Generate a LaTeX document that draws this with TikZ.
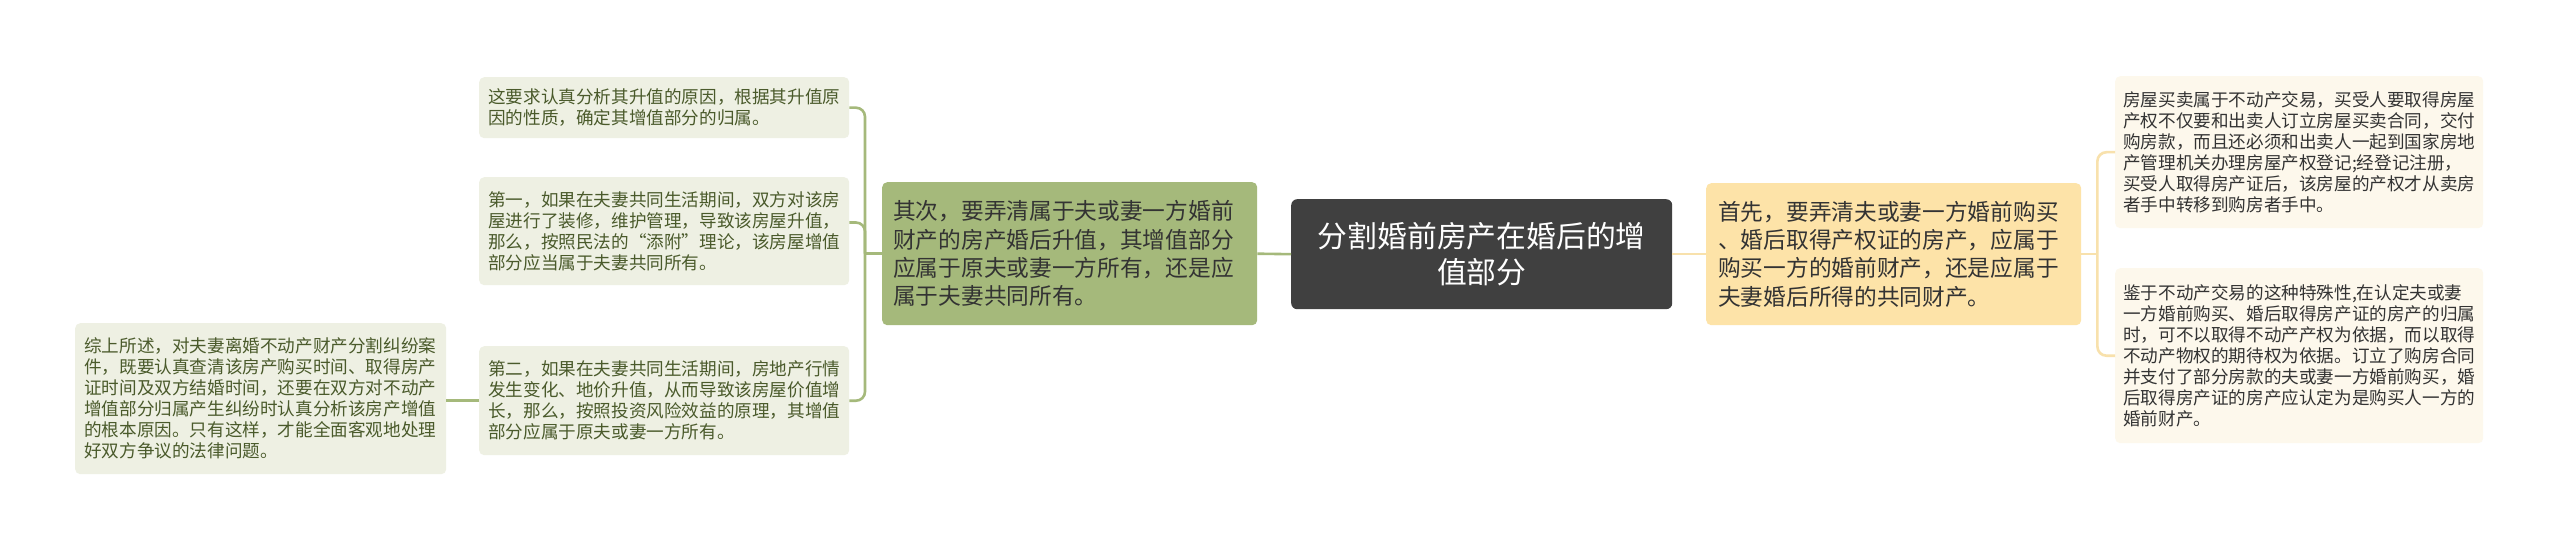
\documentclass[tikz,border=0pt]{standalone}
\usepackage{fontspec}
\newfontfamily\cjk{Noto Sans CJK SC}
\usetikzlibrary{calc}
\definecolor{centralfill}{HTML}{404040}
\definecolor{greenfill}{HTML}{A5B97B}
\definecolor{greenleaf}{HTML}{EEF0E3}
\definecolor{greentext}{HTML}{4A5A2B}
\definecolor{greenline}{HTML}{A5B97B}
\definecolor{yellowfill}{HTML}{FDE3A8}
\definecolor{yellowleaf}{HTML}{FDF8EC}
\definecolor{yellowline}{HTML}{F8E1AC}
\definecolor{darktext}{HTML}{333333}
\tikzset{
  box/.style={anchor=north west, inner ysep=0pt, align=left, rounded corners=5pt},
  leaftext/.style={font=\cjk\fontsize{17.6}{21}\selectfont},
  gleaf/.style={box, leaftext, fill=greenleaf, text=greentext, inner xsep=9pt},
  yleaf/.style={box, leaftext, fill=yellowleaf, text=darktext, inner xsep=8pt},
  midtext/.style={font=\cjk\fontsize{22.7}{28.3}\selectfont},
  gmain/.style={box, midtext, fill=greenfill, text=darktext, inner xsep=11pt},
  ymain/.style={box, midtext, fill=yellowfill, text=darktext, inner xsep=12pt},
  central/.style={box, align=center, font=\cjk\fontsize{29.8}{36.7}\selectfont, fill=centralfill, text=white, rounded corners=6pt},
  gconn/.style={draw=greenline, line width=2.6pt, rounded corners=9pt},
  yconn/.style={draw=yellowline, line width=2.6pt, rounded corners=9pt}
}
\begin{document}
\begin{tikzpicture}[x=1pt, y=-1pt]
\useasboundingbox[fill=white] (0,0) rectangle (2560,553);

% central
\node[central, text width=381pt, inner xsep=0pt, minimum height=110pt] (c) at (1291,199)
  {分割婚前房产在婚后的增\\值部分};

% green main
\node[gmain, text width=353pt, minimum height=143pt] (g) at (882,182)
  {其次，要弄清属于夫或妻一方婚前\\财产的房产婚后升值，其增值部分\\应属于原夫或妻一方所有，还是应\\属于夫妻共同所有。};

% yellow main
\node[ymain, text width=351pt, minimum height=142pt] (y) at (1706,183)
  {首先，要弄清夫或妻一方婚前购买\\、婚后取得产权证的房产，应属于\\购买一方的婚前财产，还是应属于\\夫妻婚后所得的共同财产。};

% left leaves
\node[gleaf, text width=352pt, minimum height=61pt] (l1) at (479,77)
  {这要求认真分析其升值的原因，根据其升值原\\因的性质，确定其增值部分的归属。};
\node[gleaf, text width=352pt, minimum height=108pt] (l2) at (479,177)
  {第一，如果在夫妻共同生活期间，双方对该房\\屋进行了装修，维护管理，导致该房屋升值，\\那么，按照民法的“添附”理论，该房屋增值\\部分应当属于夫妻共同所有。};
\node[gleaf, text width=352pt, minimum height=109pt] (l3) at (479,346)
  {第二，如果在夫妻共同生活期间，房地产行情\\发生变化、地价升值，从而导致该房屋价值增\\长，那么，按照投资风险效益的原理，其增值\\部分应属于原夫或妻一方所有。};
\node[gleaf, text width=353pt, minimum height=151pt] (s) at (75,323)
  {综上所述，对夫妻离婚不动产财产分割纠纷案\\件，既要认真查清该房产购买时间、取得房产\\证时间及双方结婚时间，还要在双方对不动产\\增值部分归属产生纠纷时认真分析该房产增值\\的根本原因。只有这样，才能全面客观地处理\\好双方争议的法律问题。};

% right leaves
\node[yleaf, text width=352pt, minimum height=152pt] (r1) at (2115,76)
  {房屋买卖属于不动产交易，买受人要取得房屋\\产权不仅要和出卖人订立房屋买卖合同，交付\\购房款，而且还必须和出卖人一起到国家房地\\产管理机关办理房屋产权登记;经登记注册，\\买受人取得房产证后，该房屋的产权才从卖房\\者手中转移到购房者手中。};
\node[yleaf, text width=352pt, minimum height=175pt] (r2) at (2115,268)
  {鉴于不动产交易的这种特殊性,在认定夫或妻\\一方婚前购买、婚后取得房产证的房产的归属\\时，可不以取得不动产产权为依据，而以取得\\不动产物权的期待权为依据。订立了购房合同\\并支付了部分房款的夫或妻一方婚前购买，婚\\后取得房产证的房产应认定为是购买人一方的\\婚前财产。};

% connectors
\coordinate (bx) at ($(g.west)+(-17,0)$);
\coordinate (by) at ($(y.east)+(16,0)$);
\coordinate (l2a) at ($(l2.north east)!0.42!(l2.south east)$);

\draw[gconn] (c.west) -- (g.east);
\draw[yconn] (c.east) -- (y.west);

\draw[gconn] (g.west) -- (bx);
\draw[gconn] (l1.east) -| (bx) |- (l3.east);
\draw[gconn] (l2a) -| (bx);
\draw[gconn] (l3.west) -- (s.east |- l3.west);

\draw[yconn] (y.east) -- (by);
\draw[yconn] (r1.west) -| (by) |- (r2.west);
\end{tikzpicture}
\end{document}
